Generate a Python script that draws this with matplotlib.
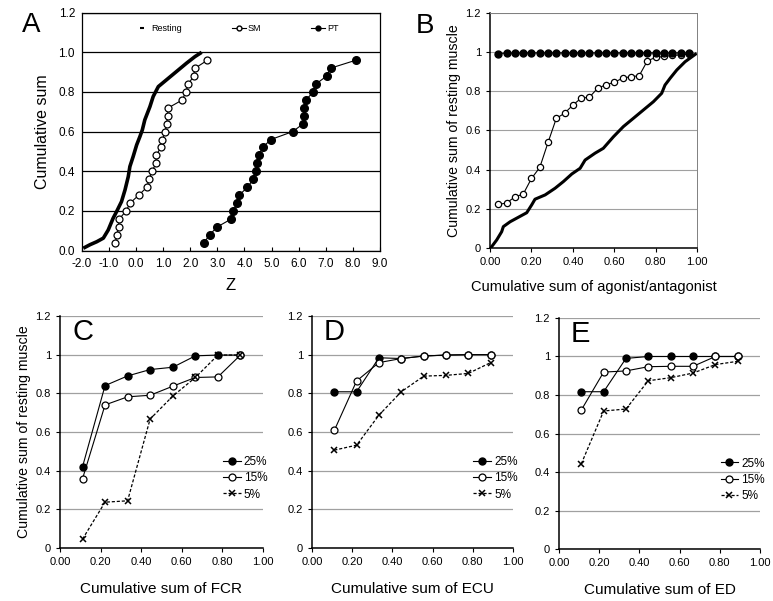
import matplotlib
matplotlib.use("Agg")
import matplotlib.pyplot as plt
from matplotlib.lines import Line2D
from matplotlib.ticker import FormatStrFormatter

plt.rcParams["font.family"] = ["Liberation Sans", "DejaVu Sans"]

# === Panel A data (Z scores vs cumulative sum) ===
a_rest_x = [-1.95, -1.7, -1.45, -1.21, -1.03, -0.85, -0.72, -0.54, -0.41, -0.29, -0.23,
            -0.11, 0.02, 0.14, 0.23, 0.32, 0.51, 0.63, 0.82, 1.12, 1.49, 1.86, 2.17, 2.42]
a_rest_y = [0.012, 0.03, 0.045, 0.063, 0.104, 0.163, 0.197, 0.247, 0.306, 0.373, 0.424,
            0.474, 0.533, 0.575, 0.609, 0.659, 0.726, 0.777, 0.827, 0.861, 0.903, 0.945, 0.978, 1.0]
a_sm_x = [-0.77, -0.71, -0.65, -0.62, -0.37, -0.22, 0.10, 0.40, 0.48, 0.58, 0.74, 0.74,
          0.91, 0.97, 1.07, 1.13, 1.16, 1.19, 1.71, 1.83, 1.93, 2.12, 2.18, 2.63]
a_pt_x = [2.51, 2.71, 3.00, 3.52, 3.59, 3.74, 3.81, 4.11, 4.33, 4.42, 4.45, 4.54,
          4.67, 4.97, 5.78, 6.17, 6.21, 6.21, 6.27, 6.54, 6.64, 7.03, 7.18, 8.11]
a_cum_y = [0.04, 0.08, 0.12, 0.16, 0.20, 0.24, 0.28, 0.32, 0.36, 0.40, 0.44, 0.48,
           0.52, 0.56, 0.60, 0.64, 0.68, 0.72, 0.76, 0.80, 0.84, 0.88, 0.92, 0.96]

# === Panel B data ===
b_rest_x = [0.0, 0.008, 0.032, 0.056, 0.064, 0.097, 0.137, 0.177, 0.201, 0.217, 0.266, 0.314,
            0.354, 0.395, 0.435, 0.459, 0.507, 0.547, 0.596, 0.644, 0.692, 0.741, 0.789,
            0.829, 0.845, 0.87, 0.902, 0.942, 0.998]
b_rest_y = [0.0, 0.007, 0.041, 0.083, 0.109, 0.134, 0.157, 0.18, 0.22, 0.249, 0.271, 0.305,
            0.339, 0.378, 0.407, 0.449, 0.484, 0.509, 0.568, 0.62, 0.662, 0.705, 0.747,
            0.79, 0.832, 0.867, 0.909, 0.951, 0.994]
b_x = [0.04, 0.08, 0.12, 0.16, 0.20, 0.24, 0.28, 0.32, 0.36, 0.40, 0.44, 0.48,
       0.52, 0.56, 0.60, 0.64, 0.68, 0.72, 0.76, 0.80, 0.84, 0.88, 0.92, 0.96]
b_sm_y = [0.222, 0.23, 0.261, 0.275, 0.355, 0.411, 0.539, 0.662, 0.688, 0.73, 0.765, 0.77,
          0.816, 0.833, 0.846, 0.867, 0.875, 0.879, 0.956, 0.973, 0.978, 0.983, 0.986, 0.99]
b_pt_y = [0.993, 0.995, 0.995, 0.996, 0.996, 0.996, 0.996, 0.996, 0.996, 0.996, 0.996, 0.996,
          0.996, 0.996, 0.996, 0.996, 0.996, 0.996, 0.996, 0.996, 0.996, 0.996, 0.996, 0.996]

# === Panels C-E data ===
cde_x = [0.111, 0.222, 0.333, 0.444, 0.556, 0.667, 0.778, 0.889]
c_25 = [0.42, 0.84, 0.89, 0.923, 0.935, 0.994, 0.998, 0.998]
c_15 = [0.358, 0.74, 0.782, 0.79, 0.837, 0.882, 0.885, 0.998]
c_05 = [0.046, 0.237, 0.244, 0.667, 0.786, 0.882, 0.998, 0.998]
d_25 = [0.808, 0.808, 0.984, 0.98, 0.993, 0.998, 1.0, 1.0]
d_15 = [0.608, 0.864, 0.959, 0.98, 0.993, 0.998, 1.0, 1.0]
d_05 = [0.506, 0.532, 0.687, 0.808, 0.889, 0.893, 0.903, 0.959]
e_25 = [0.817, 0.817, 0.99, 1.0, 1.0, 1.0, 1.0, 1.0]
e_15 = [0.722, 0.919, 0.925, 0.947, 0.949, 0.949, 1.0, 1.0]
e_05 = [0.443, 0.717, 0.727, 0.874, 0.89, 0.914, 0.958, 0.975]
cde_labels = ["FCR", "ECU", "ED"]
cde_letters = ["C", "D", "E"]

fig = plt.figure(figsize=(7.73, 6.01), dpi=100)

# === Panel A ===
axA = fig.add_axes([0.106, 0.583, 0.3855, 0.396])
axA.plot(a_rest_x, a_rest_y, color="black", lw=2.6, solid_capstyle="butt")
axA.plot(a_sm_x, a_cum_y, color="black", lw=0.8, marker="o", ms=5,
         mfc="white", mec="black", mew=0.9)
axA.plot(a_pt_x, a_cum_y, color="black", lw=0.8, marker="o", ms=5.5,
         mfc="black", mec="black")
axA.set_xlim(-2, 9)
axA.set_ylim(0, 1.2)
axA.set_xticks(range(-2, 10))
axA.set_yticks([0, 0.2, 0.4, 0.6, 0.8, 1.0, 1.2])
axA.xaxis.set_major_formatter(FormatStrFormatter("%.1f"))
axA.yaxis.set_major_formatter(FormatStrFormatter("%.1f"))
axA.tick_params(axis="x", direction="in", length=3, labelsize=8.5, pad=5)
axA.tick_params(axis="y", length=0, labelsize=8.5, pad=5)
axA.grid(axis="y", color="black", lw=0.9)
axA.set_axisbelow(True)
for s in axA.spines.values():
    s.set_linewidth(0.9)
axA.set_xlabel("Z", fontsize=12, labelpad=6)
axA.set_ylabel("Cumulative sum", fontsize=11.5, labelpad=6)
handles = [Line2D([], [], color="black", marker="_", ls="none", ms=3, mew=1.5),
           Line2D([], [], color="black", lw=0.8, marker="o", ms=3.5, mfc="white"),
           Line2D([], [], color="black", lw=0.8, marker="o", ms=3.5, mfc="black")]
axA.legend(handles, ["Resting", "SM", "PT"], ncol=3, loc="upper center",
           bbox_to_anchor=(0.52, 0.985), frameon=False, fontsize=6.5,
           handlelength=1.6, handletextpad=0.2, columnspacing=5.5)
fig.text(0.028, 0.958, "A", fontsize=20, va="center")

# === Panel B ===
axB = fig.add_axes([0.634, 0.5874, 0.2678, 0.391])
axB.plot(b_rest_x, b_rest_y, color="black", lw=2.2, solid_capstyle="butt")
axB.plot(b_x, b_sm_y, color="black", lw=0.8, marker="o", ms=4.5,
         mfc="white", mec="black", mew=0.9)
axB.plot(b_x, b_pt_y, color="black", lw=0.8, marker="o", ms=5,
         mfc="black", mec="black")
axB.set_xlim(0, 1)
axB.set_ylim(0, 1.2)
axB.set_xticks([0, 0.2, 0.4, 0.6, 0.8, 1.0])
axB.set_yticks([0, 0.2, 0.4, 0.6, 0.8, 1.0, 1.2])
axB.set_yticklabels(["0", "0.2", "0.4", "0.6", "0.8", "1", "1.2"])
axB.xaxis.set_major_formatter(FormatStrFormatter("%.2f"))
axB.tick_params(direction="out", length=3, labelsize=8, width=0.8)
axB.grid(axis="y", color="#a0a0a0", lw=0.8)
axB.set_axisbelow(True)
axB.spines["top"].set_color("#808080")
axB.spines["right"].set_color("#808080")
axB.spines["top"].set_linewidth(0.7)
axB.spines["right"].set_linewidth(0.7)
axB.spines["left"].set_linewidth(1.1)
axB.spines["bottom"].set_linewidth(1.1)
axB.set_xlabel("Cumulative sum of agonist/antagonist", fontsize=10.5, labelpad=9)
axB.set_ylabel("Cumulative sum of resting muscle", fontsize=10.2, labelpad=3)
fig.text(0.538, 0.957, "B", fontsize=20, va="center")

# === Panels C, D, E ===
positions = [[0.0776, 0.0882, 0.2626, 0.386],
             [0.4036, 0.0882, 0.26, 0.386],
             [0.7232, 0.0865, 0.26, 0.3844]]
series = [(c_25, c_15, c_05), (d_25, d_15, d_05), (e_25, e_15, e_05)]
for pos, (s25, s15, s05), lab, letter in zip(positions, series, cde_labels, cde_letters):
    ax = fig.add_axes(pos)
    ax.plot(cde_x, s25, color="black", lw=0.8, marker="o", ms=5,
            mfc="black", mec="black", label="25%")
    ax.plot(cde_x, s15, color="black", lw=0.8, marker="o", ms=5,
            mfc="white", mec="black", mew=0.9, label="15%")
    ax.plot(cde_x, s05, color="black", lw=0.9, ls=(0, (2.5, 1.5)), marker="x",
            ms=5, mew=1.1, label="5%")
    ax.set_xlim(0, 1)
    ax.set_ylim(0, 1.2)
    ax.set_xticks([0, 0.2, 0.4, 0.6, 0.8, 1.0])
    ax.set_yticks([0, 0.2, 0.4, 0.6, 0.8, 1.0, 1.2])
    ax.set_yticklabels(["0", "0.2", "0.4", "0.6", "0.8", "1", "1.2"])
    ax.xaxis.set_major_formatter(FormatStrFormatter("%.2f"))
    ax.tick_params(direction="out", length=3, labelsize=8, width=0.8)
    ax.grid(axis="y", color="#a0a0a0", lw=0.9)
    ax.set_axisbelow(True)
    ax.spines["top"].set_visible(False)
    ax.spines["right"].set_visible(False)
    ax.spines["left"].set_linewidth(1.1)
    ax.spines["bottom"].set_linewidth(1.1)
    ax.set_xlabel("Cumulative sum of " + lab, fontsize=11, labelpad=11)
    if letter == "C":
        ax.set_ylabel("Cumulative sum of resting muscle", fontsize=10.2, labelpad=3)
    ax.text(0.06, 0.93, letter, transform=ax.transAxes, fontsize=21, va="center")
    ax.legend(loc="center left", bbox_to_anchor=(0.78, 0.3), frameon=False,
              fontsize=8.5, handlelength=1.5, handletextpad=0.25, labelspacing=0.35,
              borderaxespad=0)

fig.savefig("out.png", dpi=100)
